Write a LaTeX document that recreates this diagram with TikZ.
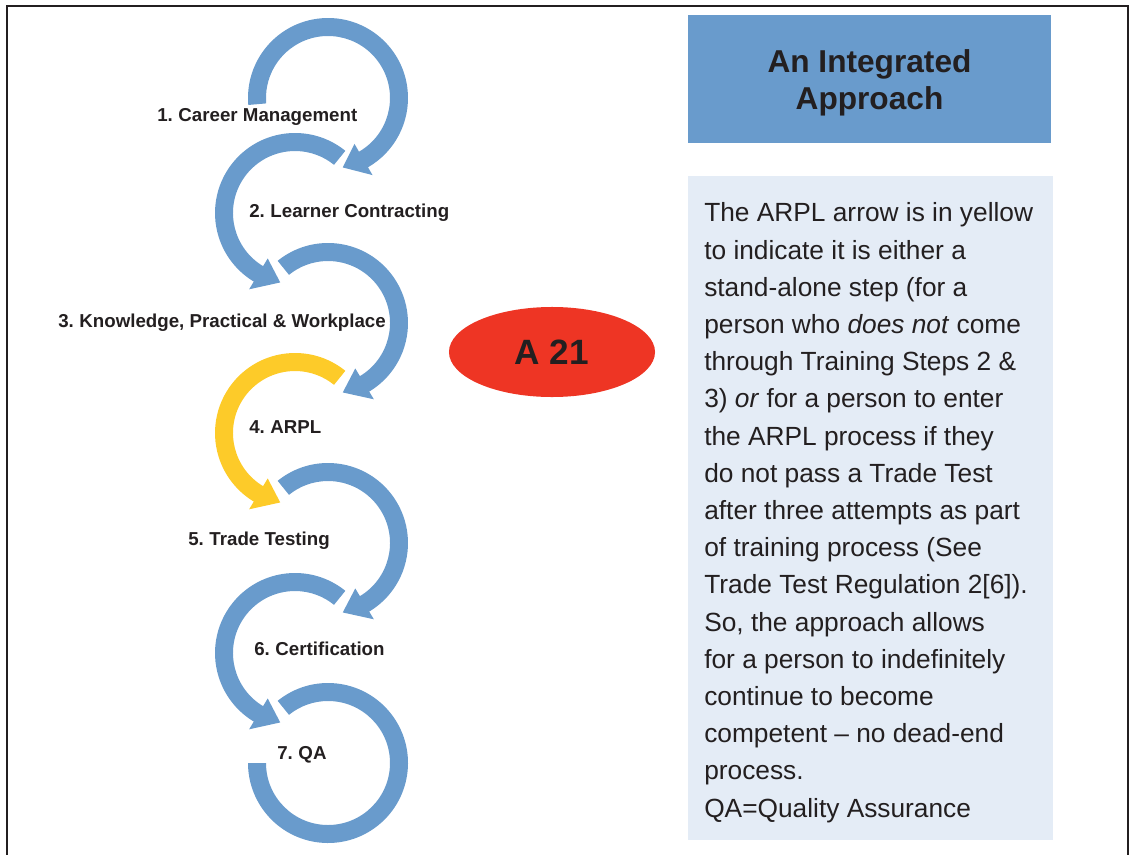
\documentclass[tikz,border=0pt]{standalone}
\usepackage{fontspec}
\setmainfont{Liberation Sans}
\usetikzlibrary{shapes.geometric}
\definecolor{arcblue}{RGB}{105,155,204}
\definecolor{arcyellow}{RGB}{253,203,41}
\definecolor{ovalred}{RGB}{238,53,36}
\definecolor{notefill}{RGB}{228,236,246}
\definecolor{ink}{RGB}{35,31,32}
\tikzset{
  steplabel/.style={anchor=base west,inner sep=0pt,text=ink,font=\fontsize{13.3}{16}\selectfont\bfseries},
  oval/.style={ellipse,fill=ovalred,inner sep=0pt,minimum width=5.15cm,minimum height=2.25cm,text=ink,font=\fontsize{25}{30}\selectfont\bfseries},
  titlebox/.style={fill=arcblue,inner sep=0pt,minimum width=9.075cm,minimum height=3.2cm},
  titletext/.style={anchor=base,align=center,inner sep=0pt,text=ink,font=\fontsize{22.5}{26}\selectfont\bfseries},
  notebox/.style={fill=notefill,inner sep=0pt,minimum width=9.125cm,minimum height=16.6cm},
  notetext/.style={anchor=base west,align=left,inner sep=0pt,text=ink,font=\fontsize{18.7}{26.45}\selectfont}
}
\begin{document}
\begin{tikzpicture}[x=0.025cm,y=0.025cm]
\useasboundingbox (0,0) rectangle (1132,-855);
\draw[ink,line width=1.4pt] (7,-860) -- (7,-6) -- (1128,-6) -- (1128,-860);
\foreach \n/\cx/\cy in {1/328/98,2/295/213,3/328/323,4/295/433,5/328/543,6/295/653,7/328/763}
  \coordinate (c\n) at (\cx,-\cy);
\foreach \n/\s/\b/\t/\col in {1/185/-60/-78/arcblue,2/51/239/258/arcblue,3/129/-59/-78/arcblue,4/51/239/258/arcyellow,5/129/-59/-78/arcblue,6/51/239/258/arcblue}
  \fill[\col,shift={(c\n)}] (\s:80) arc[start angle=\s,end angle=\b,radius=80] -- (\b:89) -- (\t:71) -- (\b:53) -- (\b:62) arc[start angle=\b,end angle=\s,radius=62] -- cycle;
\fill[arcblue,shift={(c7)}] (129:80) arc[start angle=129,end angle=-180,radius=80] -- (-180:62) arc[start angle=-180,end angle=129,radius=62] -- cycle;
\foreach \n/\x/\y/\txt in {1/157/121/Career Management,2/249/217/Learner Contracting,3/58/327/{Knowledge, Practical \& Workplace},4/249/433/ARPL,5/188/545/Trade Testing,6/254/655/Certification,7/277/759/QA}
  \node[steplabel] (s\n) at (\x,-\y) {\n.\hspace{.3em}\txt};
\node[oval] (a21) at (552,-352) {A 21};
\node[titlebox] (title) at (869.5,-79) {};
\node[titletext] (head) at (869.5,-109) {An Integrated\\Approach};
\node[notebox] (note) at (870.5,-508) {};
\node[notetext] (body) at (704,-817) {The ARPL arrow is in yellow\\
to indicate it is either a\\
stand-alone step (for a\\
person who \textit{does not} come\\
through Training Steps 2 \&\\
3) \textit{or} for a person to enter\\
the ARPL process if they\\
do not pass a Trade Test\\
after three attempts as part\\
of training process (See\\
Trade Test Regulation 2[6]).\\
So, the approach allows\\
for a person to indefinitely\\
continue to become\\
competent -- no dead-end\\
process.\\
QA=Quality Assurance};
\end{tikzpicture}
\end{document}
